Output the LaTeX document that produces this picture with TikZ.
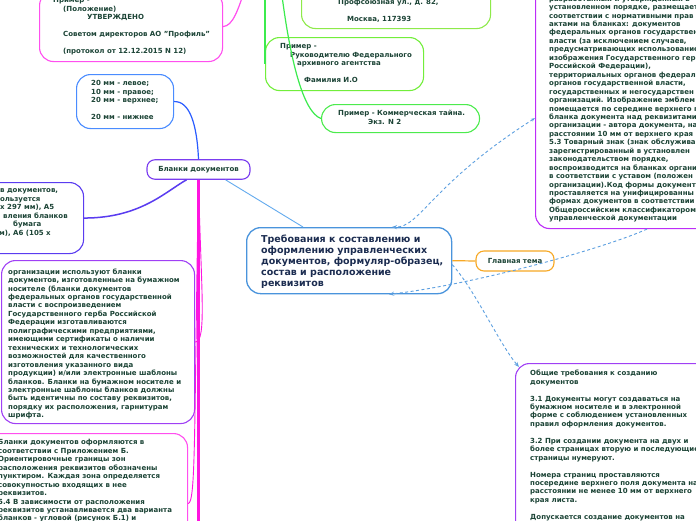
\documentclass[tikz,border=0pt]{standalone}
\usepackage{fontspec}
\setmainfont{DejaVu Sans}
\usetikzlibrary{arrows.meta}

\definecolor{inkgreen}{HTML}{1C4436}
\definecolor{inknavy}{HTML}{1B2C50}
\definecolor{pinkedge}{HTML}{FF4FEF}
\definecolor{magline}{HTML}{FF14E0}
\definecolor{violedge}{HTML}{A040F5}
\definecolor{purpedge}{HTML}{7A3CF0}
\definecolor{blueedge}{HTML}{4A8CFF}
\definecolor{blueline}{HTML}{2A5CFF}
\definecolor{indigoedge}{HTML}{5A3CF0}
\definecolor{limeedge}{HTML}{8EEA4A}
\definecolor{greenline}{HTML}{3CEB4E}
\definecolor{skyedge}{HTML}{4A94DC}
\definecolor{skyline}{HTML}{63AAEE}
\definecolor{orangeedge}{HTML}{F7A824}
\definecolor{dashblue}{HTML}{5C9FE0}

\tikzset{
  card/.style={draw, rounded corners=14pt, line width=1.1pt, inner sep=0pt, anchor=north west},
  pill/.style={draw, rounded corners=8pt, line width=1.1pt, inner sep=0pt, text=inkgreen,
    font=\fontsize{7}{8.45}\selectfont\bfseries},
  note/.style={anchor=north west, inner sep=0pt, align=left, text=inkgreen,
    font=\fontsize{7}{8.45}\selectfont\bfseries, execute at begin node=\strut},
  topic/.style={anchor=north west, inner sep=0pt, align=left, text=inknavy,
    font=\fontsize{9.5}{11}\selectfont\bfseries, execute at begin node=\strut},
  branch/.style={line width=1.2pt},
  relation/.style={dashblue, line width=0.9pt, dash pattern=on 3pt off 2.5pt,
    -{Stealth[length=5pt,width=4pt]}},
}

\begin{document}
\begin{tikzpicture}[x=1pt,y=-1pt]
  \useasboundingbox[fill=white] (0,0) rectangle (696,520);

  % parents outside the view
  \coordinate (upPink) at (246,-14);
  \coordinate (upGreenA) at (265,-20);
  \coordinate (upGreenB) at (281,-12);
  \coordinate (downMag) at (198.5,540);

  % central topic
  \node[card, draw=skyedge, line width=1.3pt, minimum width=205pt, minimum height=66pt] (trebov) at (246,227) {};
  \node[topic] (trebovtxt) at (261,235) {Требования к составлению и\\оформлению управленческих\\документов, формуляр-образец,\\состав и расположение\\реквизитов};
  \node[pill, draw=orangeedge, minimum width=78pt, minimum height=20pt] (glavn) at (515,261) {Главная тема};
  \node[pill, draw=purpedge, minimum width=103pt, minimum height=19.5pt] (blanki) at (198.5,169.5) {Бланки документов};

  % boxes
  \node[card, draw=pinkedge, minimum width=183pt, minimum height=70pt] (polozh) at (39,-9) {};
  \node[note] (polozhtxt) at (53,-2.6) {Пример -\\\hspace*{10pt}(Положение)\\\hspace*{34pt}УТВЕРЖДЕНО\\\mbox{}\\\hspace*{10pt}Советом директоров АО "Профиль"\\\mbox{}\\\hspace*{10pt}(протокол от 12.12.2015 N 12)};

  \node[card, draw=limeedge, minimum width=189pt, minimum height=68pt] (adres) at (301,-40) {};
  \node[note] (adrestxt) at (338,-0.6) {Профсоюзная ул., д. 82,\\\mbox{}\\\hspace*{9pt}Москва, 117393};

  \node[card, draw=limeedge!80!green, minimum width=158pt, minimum height=53pt] (rukov) at (265,37) {};
  \node[note] (rukovtxt) at (280,43.4) {Пример -\\\hspace*{10pt}Руководителю Федерального\\\hspace*{17pt}архивного агентства\\\mbox{}\\\hspace*{24pt}Фамилия И.О};

  \node[card, draw=greenline!80!limeedge, minimum width=158pt, minimum height=28pt] (kommerch) at (321,104) {};
  \node[note] (kommerchtxt) at (338,110.4) {Пример - Коммерческая тайна.\\\hspace*{30pt}Экз. N 2};

  \node[card, draw=blueedge, minimum width=97pt, minimum height=54pt] (polya) at (76,74) {};
  \node[note] (polyatxt) at (91,80.4) {20 мм - левое;\\10 мм - правое;\\20 мм - верхнее;\\\mbox{}\\20 мм - нижнее};

  \node[card, draw=indigoedge, minimum width=203pt, minimum height=71pt] (formaty) at (-120,182) {};
  \node[note] (formatytxt) at (-5,188.7) {\hspace*{5pt}в документов,\\пользуется\\\hspace*{5pt}х 297 мм), А5\\\hspace*{8pt}вления бланков\\\hspace*{18pt}бумага\\\hspace*{4pt}м), А6 (105 х};

  \node[card, draw=violedge, minimum width=193pt, minimum height=163pt] (izgotov) at (1,260) {};
  \node[note] (izgotovtxt) at (8,268.4) {организации используют бланки\\документов, изготовленные на бумажном\\носителе (бланки документов\\федеральных органов государственной\\власти с воспроизведением\\Государственного герба Российской\\Федерации изготавливаются\\полиграфическими предприятиями,\\имеющими сертификаты о наличии\\технических и технологических\\возможностей для качественного\\изготовления указанного вида\\продукции) и/или электронные шаблоны\\бланков. Бланки на бумажном носителе и\\электронные шаблоны бланков должны\\быть идентичны по составу реквизитов,\\порядку их расположения, гарнитурам\\шрифта.};

  \node[card, draw=pinkedge, minimum width=307pt, minimum height=140pt] (oformlen) at (-120,433) {};
  \node[note] (oformlentxt) at (-2,439.4) {Бланки документов оформляются в\\соответствии с Приложением Б.\\Ориентировочные границы зон\\расположения реквизитов обозначены\\пунктиром. Каждая зона определяется\\совокупностью входящих в нее\\реквизитов.\\5.4 В зависимости от расположения\\реквизитов устанавливается два варианта\\бланков - угловой (рисунок Б.1) и};

  \node[card, draw=violedge!70!magenta, minimum width=300pt, minimum height=400pt] (emblem) at (535,-172) {};
  \node[note] (emblemtxt) at (549,-4.6) {разработанный и утвержденный в\\установленном порядке, размещает\\соответствии с нормативными прав\\актами на бланках: документов\\федеральных органов государствен\\власти (за исключением случаев,\\предусматривающих использование\\изображения Государственного гер\\Российской Федерации),\\территориальных органов федерал\\органов государственной власти,\\государственных и негосударствен\\организаций. Изображение эмблем\\помещается по середине верхнего п\\бланка документа над реквизитами\\организации - автора документа, на\\расстоянии 10 мм от верхнего края\\5.3 Товарный знак (знак обслужива\\зарегистрированный в установлен\\законодательством порядке,\\воспроизводится на бланках органи\\в соответствии с уставом (положен\\организации).Код формы документа\\проставляется на унифицированны\\формах документов в соответствии\\Общероссийским классификатором\\управленческой документации};

  \node[card, draw=violedge, minimum width=300pt, minimum height=300pt] (obshie) at (515,363) {};
  \node[note] (obshietxt) at (530,369.9) {Общие требования к созданию\\документов\\\mbox{}\\3.1 Документы могут создаваться на\\бумажном носителе и в электронной\\форме с соблюдением установленных\\правил оформления документов.\\\mbox{}\\3.2 При создании документа на двух и\\более страницах вторую и последующие\\страницы нумеруют.\\\mbox{}\\Номера страниц проставляются\\посередине верхнего поля документа на\\расстоянии не менее 10 мм от верхнего\\края листа.\\\mbox{}\\Допускается создание документов на};

  % branches
  \draw[branch, pinkedge] (polozh.east) .. controls (233,26) and (238,10) .. (upPink);
  \draw[branch, greenline] (upGreenA) -- (rukov.west);
  \draw[branch, greenline] (upGreenB) .. controls (290,60) and (303,112) .. (kommerch.west);
  \draw[branch, blueline] (polya.east) .. controls (190,101) and (197,125) .. (blanki.north);
  \draw[branch, indigoedge, line width=1.5pt] (formaty.east) .. controls (140,218) and (165,192) .. ([xshift=-12pt]blanki.south);
  \draw[magline, line width=2.6pt] (blanki.south) -- (downMag);
  \draw[magline, line width=0.9pt] (blanki.south) .. controls (201,290) and (207,342) .. (izgotov.east);
  \draw[magline, line width=0.9pt] (blanki.south) .. controls (194,430) and (196,503) .. (oformlen.east);
  \draw[skyline, line width=0.9pt] ([xshift=27pt]blanki.south) -- ([xshift=57pt]trebov.north west);
  \draw[branch, orangeedge] (trebov.east) -- (glavn.west);

  % relations
  \draw[relation, {Stealth[length=4pt,width=3pt]}-{Stealth[length=5pt,width=4pt]}] ([yshift=111pt]emblem.south west) .. controls (430,185) and (420,228) .. ([xshift=146pt]trebov.north west);
  \draw[relation] ([xshift=112pt]emblem.south west) .. controls (600,250) and (470,285) .. ([xshift=143pt]trebov.south west);
  \draw[relation] ([yshift=-4pt]trebov.east) .. controls (475,290) and (500,345) .. ([shift={(4pt,-4pt)}]obshie.north west);
\end{tikzpicture}
\end{document}
